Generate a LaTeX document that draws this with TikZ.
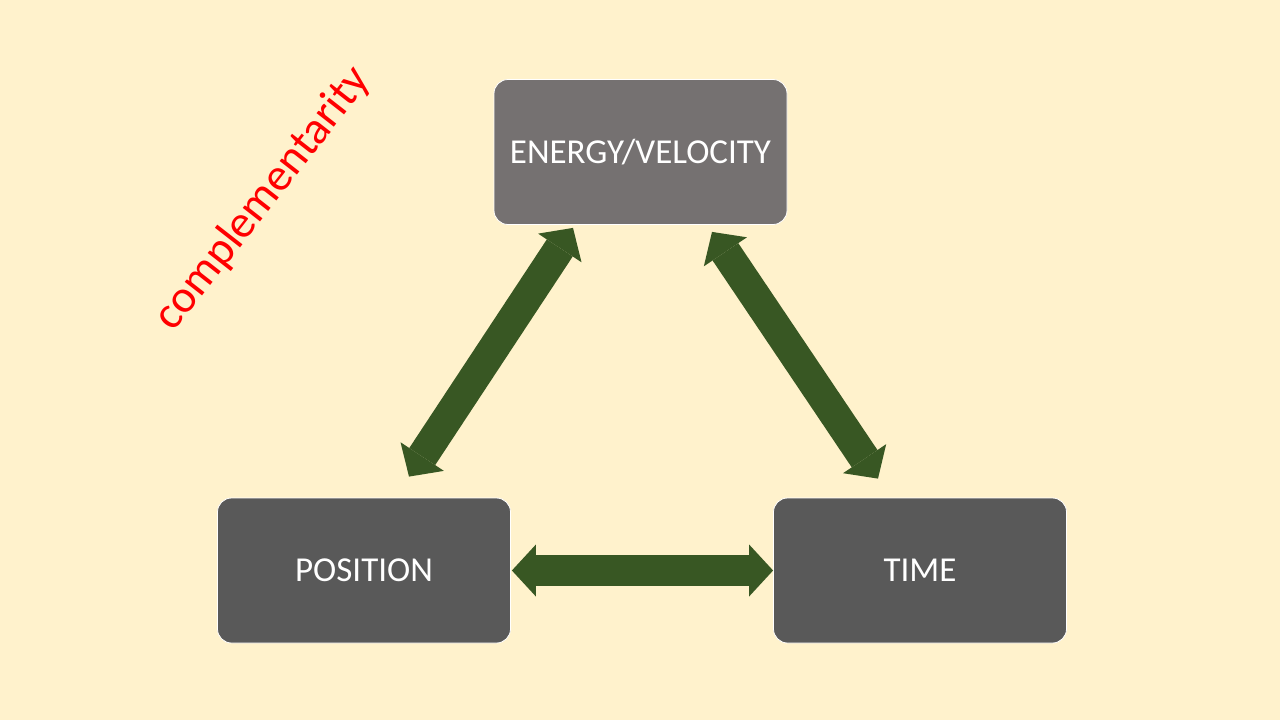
\documentclass[tikz,border=0pt]{standalone}
\usepackage{fontspec}
\setmainfont{Carlito}
\usetikzlibrary{arrows.meta,calc}
\definecolor{bg}{HTML}{FFF2CC}
\definecolor{topgray}{HTML}{757171}
\definecolor{boxgray}{HTML}{595959}
\definecolor{arrowgreen}{HTML}{385723}
\begin{document}
\begin{tikzpicture}[x=1pt,y=-1pt,
  box/.style={rectangle, rounded corners=14pt, minimum width=293pt, minimum height=145pt,
    draw=white, line width=0.8pt, text=white, inner sep=0pt,
    font=\fontsize{35}{42}\selectfont},
  dbl/.style={draw=arrowgreen, line width=31pt,
    {Triangle[width=52pt,length=24pt,line width=0pt]}-{Triangle[width=52pt,length=24pt,line width=0pt]}}]
  \fill[bg] (0,0) rectangle (1280,720);
  \useasboundingbox (0,0) rectangle (1280,720);

  \node[box, fill=topgray] (en) at (640.5,152) {ENERGY/VELOCITY};
  \node[box, fill=boxgray] (pos) at (364,570.5) {POSITION};
  \node[box, fill=boxgray] (time) at (920,570.5) {TIME};

  \node[text=red, rotate=52, font=\fontsize{46}{54}\selectfont, inner sep=0pt] (comp) at (263,199) {complementarity};

  \draw[dbl] ($(pos.north)+(45,-21)$) -- ($(en.south)+(-67.5,3)$);
  \draw[dbl] ($(time.north)+(-42,-19)$) -- ($(en.south)+(71.5,7)$);
  \draw[dbl] ($(pos.east)+(1,0)$) -- (time.west);
\end{tikzpicture}
\end{document}
